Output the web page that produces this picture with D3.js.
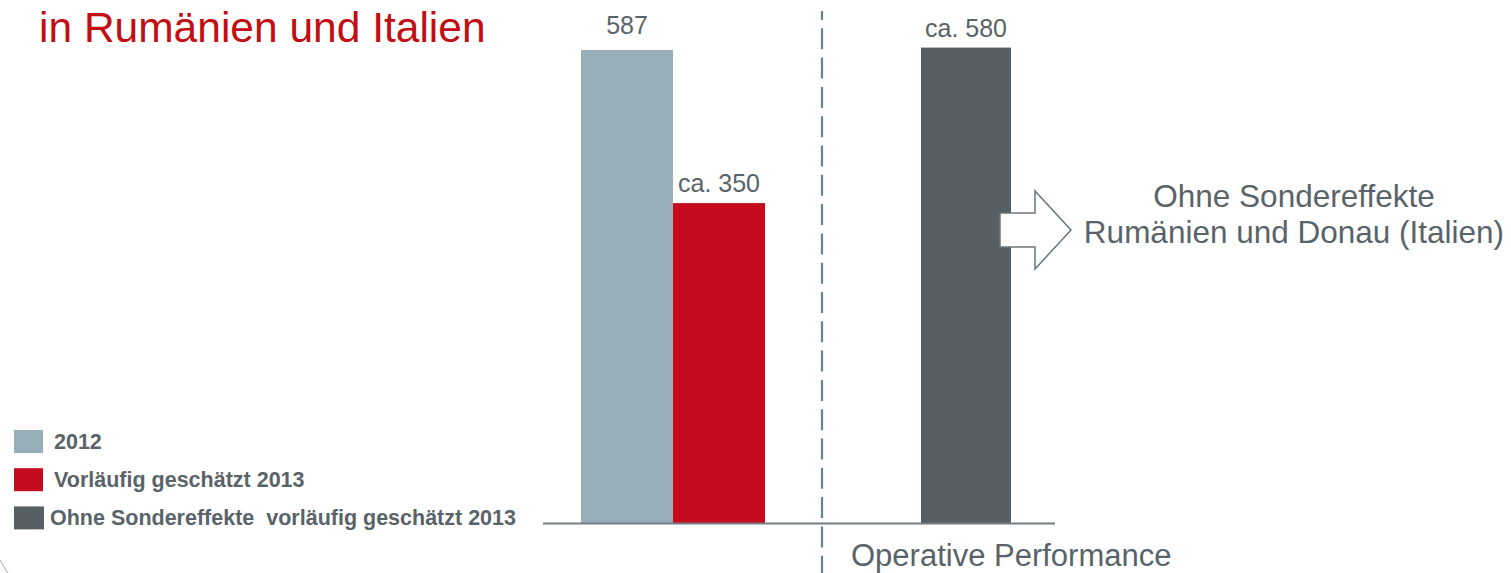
<!DOCTYPE html>
<html>
<head>
<meta charset="utf-8">
<script src="https://cdn.jsdelivr.net/npm/d3@7"></script>
<style>
  html, body { margin: 0; padding: 0; background: #fff; }
  svg { display: block; font-family: "Liberation Sans", Arial, sans-serif; }
  text { white-space: pre; }
</style>
</head>
<body>
<svg id="chart" width="1511" height="573"></svg>
<script>
// chart data
var groups = ["Berichtet", "Operative Performance"];
var series = ["2012", "Vorläufig geschätzt 2013", "Ohne Sondereffekte  vorläufig geschätzt 2013"];
var seriesGroup = ["Berichtet", "Berichtet", "Operative Performance"];
var values = [587, 397, 590];          // bar heights as drawn
var valueLabels = ["587", "ca. 350", "ca. 580"];
var colors = ["#98afb9", "#c70b1f", "#565f63"];
var title = "in Rumänien und Italien";
var note = ["Ohne Sondereffekte", "Rumänien und Donau (Italien)"];

var svg = d3.select("#chart");
var grey = "#5a6368";

// layout
var baseY = 523, topY = 50;
var axisLeft = 543, axisRight = 1055;
var divider = 822;

var y = d3.scaleLinear().domain([0, 587]).range([baseY, topY]);
var xGroup = d3.scalePoint().domain(groups).range([673, 966]);
var inner = d3.scaleBand().domain(["0", "1"]).range([-92, 92]);

// bar positions: two bars side by side in first group, one in second
var bars = series.map(function(s, i){
    var g = seriesGroup[i];
    var members = series.filter(function(d, j){ return seriesGroup[j] === g; });
    var k = members.indexOf(s);
    var x, w;
    if(members.length > 1){
        x = xGroup(g) + inner(String(k));
        w = inner.bandwidth();
    } else {
        w = 90;
        x = xGroup(g) - w / 2;
    }
    return {name: s, value: values[i], label: valueLabels[i], color: colors[i], x: x, w: w};
});

// title
svg.append("text")
    .attr("x", 39)
    .attr("y", 42)
    .attr("font-size", 42.5)
    .attr("fill", "#c30d12")
    .text(title);

// dashed divider
svg.append("line")
    .attr("x1", divider).attr("x2", divider)
    .attr("y1", 11).attr("y2", 573)
    .attr("stroke", "#5e8592")
    .attr("stroke-width", 2.2)
    .attr("stroke-dasharray", "21,8.3")
    .attr("stroke-dashoffset", 12);

// bars
svg.selectAll("rect.bar")
    .data(bars)
    .enter().append("rect")
    .attr("class", "bar")
    .attr("x", function(d){ return d.x; })
    .attr("y", function(d){ return y(d.value); })
    .attr("width", function(d){ return d.w; })
    .attr("height", function(d){ return baseY - y(d.value); })
    .attr("fill", function(d){ return d.color; });

svg.selectAll("text.val")
    .data(bars)
    .enter().append("text")
    .attr("class", "val")
    .attr("x", function(d){ return d.x + d.w / 2; })
    .attr("y", function(d, i){ return y(d.value) - (i === 0 ? 16 : 11); })
    .attr("text-anchor", "middle")
    .attr("font-size", 25)
    .attr("fill", grey)
    .text(function(d){ return d.label; });

// baseline
svg.append("line")
    .attr("x1", axisLeft).attr("x2", axisRight)
    .attr("y1", baseY + 0.5).attr("y2", baseY + 0.5)
    .attr("stroke", "#737d82")
    .attr("stroke-width", 2);

svg.append("text")
    .attr("x", 851)
    .attr("y", 566)
    .attr("font-size", 31)
    .attr("fill", grey)
    .text(groups[1]);

// block arrow
var ax = 1000, ay = 230;
var arrow = [[0,-17],[35,-17],[35,-39],[71,0],[35,39],[35,17],[0,17]];
svg.append("path")
    .attr("d", d3.line()(arrow.map(function(p){ return [ax + p[0], ay + p[1]]; })) + "Z")
    .attr("fill", "#fff")
    .attr("stroke", "#6c757a")
    .attr("stroke-width", 1.5);

svg.append("text")
    .attr("x", 1294)
    .attr("y", 207)
    .attr("text-anchor", "middle")
    .attr("font-size", 31.5)
    .attr("fill", grey)
    .selectAll("tspan")
    .data(note)
    .enter().append("tspan")
    .attr("x", 1294)
    .attr("dy", function(d, i){ return i ? 36 : 0; })
    .text(function(d){ return d; });

// legend
var legend = svg.append("g");
var rows = legend.selectAll("g")
    .data(bars)
    .enter().append("g")
    .attr("transform", function(d, i){ return "translate(14," + (430 + i * 38.2) + ")"; });

rows.append("rect")
    .attr("width", function(d, i){ return i === 2 ? 30 : 29; })
    .attr("height", 23)
    .attr("fill", function(d){ return d.color; });

rows.append("text")
    .attr("x", function(d, i){ return i === 2 ? 36 : 40; })
    .attr("y", 19)
    .attr("font-size", 21.5)
    .attr("font-weight", "bold")
    .attr("fill", grey)
    .text(function(d){ return d.name; });

// slide frame corner
svg.append("path")
    .attr("d", "M0,560 Q4,567 9,575")
    .attr("fill", "none")
    .attr("stroke", "#b9bec1")
    .attr("stroke-width", 1.2);
</script>
</body>
</html>
